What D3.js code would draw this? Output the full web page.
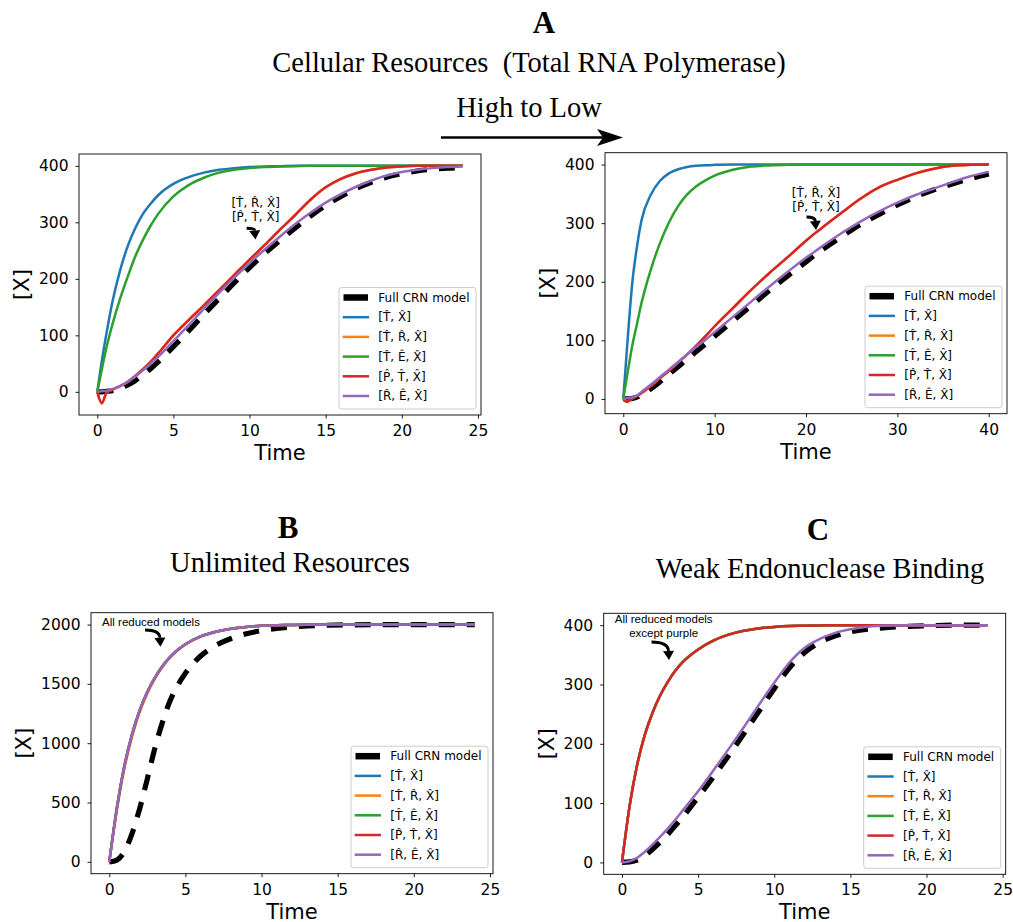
<!DOCTYPE html>
<html><head><meta charset="utf-8">
<script src="https://cdn.jsdelivr.net/npm/d3@7"></script>
<style>body{margin:0;background:#fff} svg{display:block} text{white-space:pre}</style>
</head><body><svg id="c" width="1013" height="922"></svg>
<script>
// ---------- data ----------
const seriesNames = ["Full CRN model", "[T\u0302, X\u0302]", "[T\u0302, R\u0302, X\u0302]", "[T\u0302, E\u0302, X\u0302]", "[P\u0302, T\u0302, X\u0302]", "[R\u0302, E\u0302, X\u0302]"];
const seriesColors = ["#000000", "#1f77b4", "#ff7f0e", "#2ca02c", "#d62728", "#9467bd"];

// Panel A-left (high resources)
const t1 = [0,0.3,0.6,1,1.5,2,2.5,3,3.5,4,5,6,7,8,9,10,11,12,13,14,15,16,17,18,19,20,21,22,23,24];
const full1   = [0,0,1,2,6,12,20,30,41,53,80,108,137,165,193,220,245,268,290,311,330,346,360,371,380,386,391,394,396,397];
const blue1   = [0,55,103,160,215,258,290,315,333,348,368,380,388,393,396,398,399,399.5,400,400,400,400,400,400,400,400,400,400,400,400];
const orange1 = [0,-20,-2,4,10,18,28,40,53,68,100,127,153,180,207,234,260,287,313,340,362,377,387,393,397,399,400,400,400,400];
const green1  = [0,40,78,120,165,204,240,269,294,315,346,366,379,388,393,396,398,399,399.5,400,400,400,400,400,400,400,400,400,400,400];
const red1    = [0,-20,-2,4,10,18,28,40,53,68,100,127,153,180,207,234,260,287,313,340,362,377,387,393,397,399,400,400,400,400];
const purple1 = [0,1,2,5,10,18,27,38,50,62,90,118,147,175,202,228,252,275,297,317,335,350,363,374,383,389,393,396,398,399];

// Panel A-right (low resources)
const t2 = [0,0.4,1,1.5,2,3,4,5,6,7,8,9,10,12,14,16,18,20,21,22,24,26,28,30,32,34,36,38,40];
const full2   = [0,0,1,3,7,17,29,42,55,68,81,94,107,133,159,185,210,234,246,257,278,298,315,331,345,357,367,376,384];
const blue2   = [0,85,200,260,305,348,372,385,392,396,398,399,399.5,400,400,400,400,400,400,400,400,400,400,400,400,400,400,400,400];
const orange2 = [0,-5,1,5,10,22,35,48,62,76,91,107,124,155,186,215,242,270,283,295,319,342,361,374,385,393,398,399.5,400];
const green2  = [0,38,92,128,164,220,265,301,329,349,363,373,381,391,396.5,398.5,399.5,400,400,400,400,400,400,400,400,400,400,400,400];
const red2    = [0,-5,1,5,10,22,35,48,62,76,91,107,124,155,186,215,242,270,283,295,319,342,361,374,385,393,398,399.5,400];
const purple2 = [0,1,3,6,12,24,37,50,63,76,89,101,114,140,166,192,217,241,252,263,284,303,320,335,348,359,370,380,388];

// Panel B (unlimited resources)
const t3 = [0,0.5,1,1.5,2,2.5,3,3.5,4,4.5,5,6,7,8,9,10,11,12,13,14,16,18,20,22,24];
const full3   = [0,15,90,240,450,700,960,1180,1360,1490,1590,1735,1825,1883,1922,1950,1968,1980,1988,1993,1998,2000,2000,2000,2000];
const blue3   = [0,450,810,1075,1278,1432,1553,1650,1727,1787,1834,1900,1940,1965,1980,1990,1994,1997,1999,2000,2000,2000,2000,2000,2000];
const orange3 = [0,435,790,1055,1262,1420,1545,1645,1723,1784,1832,1899,1940,1965,1980,1990,1994,1997,1999,2000,2000,2000,2000,2000,2000];
const green3  = [0,465,820,1080,1280,1433,1553,1650,1727,1787,1834,1900,1940,1965,1980,1990,1994,1997,1999,2000,2000,2000,2000,2000,2000];
const red3    = [0,450,810,1075,1278,1432,1553,1650,1727,1787,1834,1900,1940,1965,1980,1990,1994,1997,1999,2000,2000,2000,2000,2000,2000];
const purple3 = [0,450,810,1075,1278,1432,1553,1650,1727,1787,1834,1900,1940,1965,1980,1990,1994,1997,1999,2000,2000,2000,2000,2000,2000];

// Panel C (weak endonuclease binding)
const t4 = [0,0.5,1,1.5,2,2.5,3,3.5,4,5,6,7,8,9,10,11,12,13,14,15,16,17,18,20,22,24];
const full4   = [0,1,4,11,22,34,47,62,77,110,144,180,217,255,293,328,354,371,382,389,393,395,397,399,400,400];
const blue4   = [0,95,165,215,252,281,304,323,338,359,374,384,390.5,394.5,397,398.5,399,399.5,400,400,400,400,400,400,400,400];
const orange4 = [0,95,165,215,252,281,304,323,338,359,374,384,390.5,394.5,397,398.5,399,399.5,400,400,400,400,400,400,400,400];
const green4  = [0,95,165,215,252,281,304,323,338,359,374,384,390.5,394.5,397,398.5,399,399.5,400,400,400,400,400,400,400,400];
const red4    = [0,95,165,215,252,281,304,323,338,359,374,384,390.5,394.5,397,398.5,399,399.5,400,400,400,400,400,400,400,400];
const purple4 = [0,2,8,18,30,43,57,72,88,120,155,191,228,266,303,337,362,377,387,393,397,399,400,400,400,400];

const xTicks1 = [0,5,10,15,20,25], yTicks1 = [0,100,200,300,400];
const xTicks2 = [0,10,20,30,40],   yTicks2 = [0,100,200,300,400];
const xTicks3 = [0,5,10,15,20,25], yTicks3 = [0,500,1000,1500,2000];
const xTicks4 = [0,5,10,15,20,25], yTicks4 = [0,100,200,300,400];

const annot1 = {lines:["[T\u0302, R\u0302, X\u0302]","[P\u0302, T\u0302, X\u0302]"], at:[10.4,334], from:[9.81,289.5], to:[10.39,269.6], font:"DejaVu Sans", size:12};
const annot2 = {lines:["[T\u0302, R\u0302, X\u0302]","[P\u0302, T\u0302, X\u0302]"], at:[21.1,352], from:[20.06,310.5], to:[21.1,288.3], font:"DejaVu Sans", size:12};
const annot3 = {lines:["All reduced models"], at:[2.74,2019], from:[2.35,1954], to:[3.36,1813], font:"Liberation Sans", size:11.5};
const annot4 = {lines:["All reduced models","except purple"], at:[2.74,410], from:[1.94,371.6], to:[3.09,341.3], font:"Liberation Sans", size:11.5};

// ---------- drawing ----------
const svg = d3.select("#c");
const W = 402, H = 261;

const panels = [
  {left:79,  top:154,   t:t1, ys:[full1,blue1,orange1,green1,red1,purple1], xt:xTicks1, yt:yTicks1, an:annot1},
  {left:605, top:152.7, t:t2, ys:[full2,blue2,orange2,green2,red2,purple2], xt:xTicks2, yt:yTicks2, an:annot2},
  {left:91,  top:612.7, t:t3, ys:[full3,blue3,orange3,green3,red3,purple3], xt:xTicks3, yt:yTicks3, an:annot3},
  {left:603.7, top:613.3, t:t4, ys:[full4,blue4,orange4,green4,red4,purple4], xt:xTicks4, yt:yTicks4, an:annot4}
];

function pad(ext){ const r = ext[1]-ext[0]; return [ext[0]-0.05*r, ext[1]+0.05*r]; }

function arrowHead(g, tipX, tipY, fromX, fromY, len, half){
  const a = Math.atan2(tipY-fromY, tipX-fromX);
  const bx = tipX - len*Math.cos(a), by = tipY - len*Math.sin(a);
  const px = -Math.sin(a)*half, py = Math.cos(a)*half;
  g.append("path").attr("d", `M${tipX},${tipY}L${bx+px},${by+py}L${bx-px},${by-py}Z`).attr("fill","#000");
  return [bx, by];
}

panels.forEach((p, pi) => {
  const g = svg.append("g");
  const allY = p.ys.flat();
  const x = d3.scaleLinear().domain(pad(d3.extent(p.t))).range([p.left, p.left+W]);
  const y = d3.scaleLinear().domain(pad(d3.extent(allY))).range([p.top+H, p.top]);
  const cid = "clip"+pi;
  g.append("clipPath").attr("id",cid).append("rect").attr("x",p.left).attr("y",p.top).attr("width",W).attr("height",H);

  const line = d3.line().x((d,i)=>x(p.t[i])).y(d=>y(d)).curve(d3.curveMonotoneX);
  const lg = g.append("g").attr("clip-path",`url(#${cid})`);
  p.ys.forEach((vals, si) => {
    const path = lg.append("path").attr("d", line(vals)).attr("fill","none")
      .attr("stroke", seriesColors[si]);
    if (si === 0) path.attr("stroke-width", 5.2).attr("stroke-dasharray","16 12");
    else path.attr("stroke-width", 2.5);
  });

  // axes
  const xa = g.append("g").attr("transform",`translate(0,${p.top+H})`)
    .call(d3.axisBottom(x).tickValues(p.xt).tickFormat(d3.format("d")).tickSize(3.5).tickSizeOuter(0).tickPadding(6.5));
  const ya = g.append("g").attr("transform",`translate(${p.left},0)`)
    .call(d3.axisLeft(y).tickValues(p.yt).tickFormat(d3.format("d")).tickSize(3.5).tickSizeOuter(0).tickPadding(7));
  [xa, ya].forEach(a => {
    a.select(".domain").remove();
    a.selectAll("text").attr("font-family","DejaVu Sans").attr("font-size","15.5px").attr("fill","#000");
    a.selectAll("line").attr("stroke","#000").attr("stroke-width",0.9);
  });
  g.append("rect").attr("x",p.left).attr("y",p.top).attr("width",W).attr("height",H)
    .attr("fill","none").attr("stroke","#000").attr("stroke-width",0.9);

  let tw = 0;
  ya.selectAll("text").each(function(){ tw = Math.max(tw, this.getComputedTextLength()); });

  g.append("text").attr("x", p.left+W/2).attr("y", p.top+H+45).attr("text-anchor","middle")
    .attr("font-family","DejaVu Sans").attr("font-size","21px").text("Time");
  g.append("text").attr("transform",`translate(${p.left-10.5-tw-16.5},${p.top+H/2}) rotate(-90)`)
    .attr("text-anchor","middle").attr("dy","0.32em")
    .attr("font-family","DejaVu Sans").attr("font-size","21px").text("[X]");

  // annotation
  const an = p.an;
  an.lines.forEach((s, li) => {
    g.append("text").attr("x", x(an.at[0])).attr("y", y(an.at[1]) + li*14).attr("dy","0.35em")
      .attr("text-anchor","middle").attr("font-family", an.font).attr("font-size", an.size+"px").text(s);
  });
  const sx = x(an.from[0]), sy = y(an.from[1]), ex = x(an.to[0]), ey = y(an.to[1]);
  const cx = ex - 1, cy = sy;
  const [bx, by] = arrowHead(g, ex, ey, cx, cy, 9, 5.5);
  g.append("path").attr("d", `M${sx},${sy}Q${cx},${cy} ${bx},${by}`).attr("fill","none")
    .attr("stroke","#000").attr("stroke-width",3);

  // legend
  const lw = 137, lh = 121.5;
  const lx = p.left + W - 5 - lw, ly = p.top + H - 6 - lh;
  const leg = g.append("g");
  leg.append("rect").attr("x",lx).attr("y",ly).attr("width",lw).attr("height",lh).attr("rx",2.5)
    .attr("fill","#fff").attr("fill-opacity",0.8).attr("stroke","#cccccc").attr("stroke-width",1);
  seriesNames.forEach((nm, si) => {
    const ry = ly + 10 + si*19.7;
    leg.append("line").attr("x1", lx + (si===0?4.5:3.7)).attr("x2", lx + (si===0?29:30)).attr("y1",ry).attr("y2",ry)
      .attr("stroke", seriesColors[si]).attr("stroke-width", si===0 ? 6.5 : 2.5);
    leg.append("text").attr("x", lx+39.3).attr("y", ry).attr("dy","0.35em")
      .attr("font-family","DejaVu Sans").attr("font-size","12px").text(nm);
  });
});

// ---------- titles ----------
const serif = "Liberation Serif, Times New Roman, serif";
function title(txt, cx, by, size, bold){
  svg.append("text").attr("x",cx).attr("y",by).attr("text-anchor","middle")
    .attr("font-family",serif).attr("font-size",size+"px").attr("font-weight",bold?"bold":"normal").text(txt);
}
title("A", 544, 33, 31, true);
title("Cellular Resources  (Total RNA Polymerase)", 529, 72, 28.5, false);
title("High to Low", 529, 117, 28.5, false);
title("B", 288, 538, 31, true);
title("Unlimited Resources", 290, 572, 28.5, false);
title("C", 818, 540, 31, true);
title("Weak Endonuclease Binding", 820, 578, 28.5, false);

// big arrow
svg.append("line").attr("x1",441).attr("x2",603).attr("y1",137.5).attr("y2",137.5).attr("stroke","#000").attr("stroke-width",2.6);
svg.append("path").attr("d","M623,137.5L597,129L603,137.5L597,146Z").attr("fill","#000");
</script></body></html>
